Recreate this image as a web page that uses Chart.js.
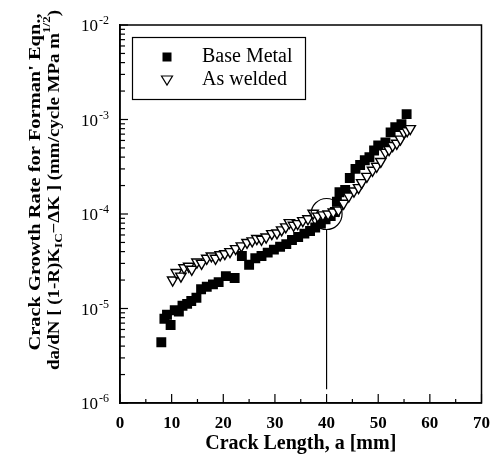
<!DOCTYPE html>
<html><head><meta charset="utf-8">
<script src="https://cdn.jsdelivr.net/npm/chart.js@4/dist/chart.umd.min.js"></script>
<style>html,body{margin:0;padding:0;background:#fff}#wrap{width:500px;height:466px;position:relative}</style>
</head><body><div id="wrap"><canvas id="c" width="500" height="466"></canvas></div>
<script>
// ---- data ----
const baseMetalA    = [8.0, 8.6, 9.1, 9.8, 10.6, 11.4, 12.1, 13.0, 13.8, 14.8, 15.7, 16.8, 18.0, 19.1, 20.5, 22.2, 23.6, 25.0, 26.2, 27.4, 28.6, 29.8, 31.0, 32.2, 33.3, 34.5, 35.7, 36.8, 37.8, 38.9, 39.8, 40.8, 41.6, 42.0, 42.5, 43.6, 44.5, 45.6, 46.5, 47.4, 48.3, 49.2, 50.0, 51.4, 52.4, 53.3, 54.5, 55.5];
const baseMetalRate = [4.4e-6, 7.8e-6, 8.6e-6, 6.7e-6, 9.6e-6, 9.3e-6, 1.07e-5, 1.12e-5, 1.2e-5, 1.3e-5, 1.6e-5, 1.7e-5, 1.8e-5, 1.9e-5, 2.2e-5, 2.1e-5, 3.6e-5, 2.9e-5, 3.4e-5, 3.6e-5, 3.9e-5, 4.2e-5, 4.5e-5, 4.8e-5, 5.3e-5, 5.7e-5, 6.2e-5, 6.6e-5, 7.2e-5, 7.9e-5, 8.8e-5, 9.5e-5, 1.05e-4, 1.35e-4, 1.7e-4, 1.8e-4, 2.4e-4, 3.0e-4, 3.3e-4, 3.7e-4, 4.0e-4, 4.7e-4, 5.3e-4, 5.7e-4, 7.3e-4, 8.3e-4, 8.9e-4, 1.14e-3];
const asWeldedA     = [10.2, 10.9, 11.8, 12.4, 13.3, 13.9, 14.9, 15.8, 16.8, 17.7, 18.5, 19.4, 20.3, 21.3, 22.4, 23.5, 24.6, 25.6, 26.5, 27.4, 28.3, 29.4, 30.4, 31.3, 32.1, 32.8, 33.6, 34.4, 35.4, 36.4, 37.4, 38.3, 39.3, 40.3, 41.3, 42.3, 43.3, 44.3, 45.3, 46.2, 46.8, 47.8, 48.9, 49.7, 50.5, 51.4, 52.1, 52.8, 53.6, 54.3, 55.0, 55.6, 56.2];
const asWeldedRate  = [2.0e-5, 2.4e-5, 2.2e-5, 2.7e-5, 2.8e-5, 2.6e-5, 3.1e-5, 3.0e-5, 3.4e-5, 3.6e-5, 3.4e-5, 3.7e-5, 3.8e-5, 4.0e-5, 4.3e-5, 4.6e-5, 5.0e-5, 5.2e-5, 5.5e-5, 5.4e-5, 5.7e-5, 6.2e-5, 6.3e-5, 6.8e-5, 7.3e-5, 8.1e-5, 7.6e-5, 7.9e-5, 8.5e-5, 8.9e-5, 1.02e-4, 9.5e-5, 9.8e-5, 1.0e-4, 1.05e-4, 1.1e-4, 1.3e-4, 1.55e-4, 1.75e-4, 1.9e-4, 2.15e-4, 2.5e-4, 2.9e-4, 3.2e-4, 3.6e-4, 4.5e-4, 4.8e-4, 5.3e-4, 5.6e-4, 6.2e-4, 7.3e-4, 7.6e-4, 8.0e-4];
const seriesNames   = ['Base Metal', 'As welded'];
const xTickValues   = [0, 10, 20, 30, 40, 50, 60, 70];
const xMinorValues  = [5, 15, 25, 35, 45, 55, 65];
const yDecades      = [1e-6, 1e-5, 1e-4, 1e-3, 1e-2];
const yDecadeExps   = ['-6', '-5', '-4', '-3', '-2'];
const circleMark    = [{x: 40, y: 1e-4}];
const leaderLine    = [{x: 40, y: 6.8e-5}, {x: 40, y: 1.4e-6}];
const xTitle        = 'Crack Length, a [mm]';
const yTitleLine1   = 'Crack Growth Rate for Forman\' Eqn.,';
const yTitleLine2   = [['da/dN [ (1-R)K', 'n'], ['IC', 'sub'], ['\u2212\u0394K ] (mm/cycle MPa m', 'n'], ['1/2', 'sup'], [')', 'n']];

const SERIF = '"Liberation Serif", "Times New Roman", serif';

const decor = {
  id: 'decor',
  afterDraw(chart) {
    const ctx = chart.ctx, ca = chart.chartArea;
    const xs = chart.scales.x, ys = chart.scales.y;
    ctx.save();
    ctx.strokeStyle = '#000'; ctx.fillStyle = '#000';
    // frame
    ctx.lineWidth = 1.5;
    ctx.strokeRect(ca.left, ca.top, ca.right - ca.left, ca.bottom - ca.top);
    // y ticks (inward)
    ctx.lineWidth = 1.2;
    yDecades.forEach((d, i) => {
      const py = ys.getPixelForValue(d);
      ctx.beginPath(); ctx.moveTo(ca.left, py); ctx.lineTo(ca.left + 8, py); ctx.stroke();
      if (i < yDecades.length - 1) {
        for (let k = 2; k <= 9; k++) {
          const p = ys.getPixelForValue(k * d);
          ctx.beginPath(); ctx.moveTo(ca.left, p); ctx.lineTo(ca.left + 5, p); ctx.stroke();
        }
      }
      ctx.font = '17px ' + SERIF;
      ctx.textAlign = 'right'; ctx.textBaseline = 'alphabetic';
      ctx.fillText('10', 98, py + 6);
      ctx.font = '12px ' + SERIF;
      ctx.textAlign = 'left';
      ctx.fillText(yDecadeExps[i], 99, py - 1);
    });
    // x ticks (inward)
    xTickValues.forEach(v => {
      const px = xs.getPixelForValue(v);
      ctx.beginPath(); ctx.moveTo(px, ca.bottom); ctx.lineTo(px, ca.bottom - 9); ctx.stroke();
    });
    xMinorValues.forEach(v => {
      const px = xs.getPixelForValue(v);
      ctx.beginPath(); ctx.moveTo(px, ca.bottom); ctx.lineTo(px, ca.bottom - 4); ctx.stroke();
    });
    // y title line 1
    ctx.textBaseline = 'alphabetic';
    ctx.save();
    ctx.translate(40, 182); ctx.rotate(-Math.PI / 2);
    ctx.font = 'bold 16px ' + SERIF;
    const w1 = ctx.measureText(yTitleLine1).width;
    ctx.scale(337 / w1, 1);
    ctx.textAlign = 'center';
    ctx.fillText(yTitleLine1, 0, 0);
    ctx.restore();
    // y title line 2
    ctx.save();
    ctx.translate(58.5, 190); ctx.rotate(-Math.PI / 2);
    const fontOf = s => 'bold ' + (s === 'n' ? 16 : 11) + 'px ' + SERIF;
    let total = 0;
    yTitleLine2.forEach(([t, s]) => { ctx.font = fontOf(s); total += ctx.measureText(t).width; });
    ctx.scale(360 / total, 1);
    let x = -total / 2;
    ctx.textAlign = 'left';
    yTitleLine2.forEach(([t, s]) => {
      ctx.font = fontOf(s);
      const dy = s === 'sub' ? 3.5 : (s === 'sup' ? -9 : 0);
      ctx.fillText(t, x, dy);
      x += ctx.measureText(t).width;
    });
    ctx.restore();
    // legend
    ctx.lineWidth = 1.2;
    ctx.strokeRect(132.5, 37.5, 173, 62);
    ctx.fillRect(162.5, 52.5, 9, 9);
    ctx.beginPath();
    ctx.moveTo(161.5, 76); ctx.lineTo(172.5, 76); ctx.lineTo(167, 85); ctx.closePath();
    ctx.fillStyle = '#fff'; ctx.fill(); ctx.stroke();
    ctx.fillStyle = '#000';
    ctx.font = '20px ' + SERIF; ctx.textAlign = 'left';
    ctx.fillText(seriesNames[0], 202, 62);
    ctx.fillText(seriesNames[1], 202, 85);
    ctx.restore();
  }
};

new Chart(document.getElementById('c'), {
  type: 'scatter',
  data: {
    datasets: [
      {
        label: seriesNames[0],
        data: baseMetalA.map((a, i) => ({x: a, y: baseMetalRate[i]})),
        pointStyle: 'rect', pointRadius: 7, backgroundColor: '#000', borderColor: '#000', borderWidth: 0,
        order: 2
      },
      {
        label: seriesNames[1],
        data: asWeldedA.map((a, i) => ({x: a, y: asWeldedRate[i]})),
        pointStyle: 'triangle', rotation: 180, pointRadius: 6, backgroundColor: '#fff', borderColor: '#000', borderWidth: 1.4,
        order: 1
      },
      {
        label: 'circle',
        data: circleMark,
        pointStyle: 'circle', pointRadius: 15.5, backgroundColor: 'rgba(0,0,0,0)', borderColor: '#000', borderWidth: 1.2,
        order: 0
      },
      {
        type: 'line',
        label: 'leader',
        data: leaderLine,
        borderColor: '#000', borderWidth: 1.2, pointRadius: 0, showLine: true, fill: false,
        order: 0
      }
    ]
  },
  options: {
    responsive: false,
    devicePixelRatio: 1,
    animation: false,
    layout: {padding: {top: 25, right: 8, left: 0, bottom: 0}},
    plugins: {legend: {display: false}, tooltip: {enabled: false}},
    scales: {
      x: {
        type: 'linear', min: 0, max: 70, position: 'bottom',
        afterFit: s => { s.height = 63; },
        ticks: {stepSize: 10, color: '#000', font: {family: SERIF, size: 17, weight: 'bold'}, padding: 10, maxRotation: 0},
        grid: {display: false, drawTicks: false},
        border: {display: true, color: '#000', width: 1.5},
        title: {display: true, text: xTitle, color: '#000', font: {family: SERIF, size: 20, weight: 'bold'}, padding: {top: 0, bottom: 10}}
      },
      y: {
        type: 'logarithmic', min: 1e-6, max: 1e-2,
        afterFit: s => { s.width = 120; },
        ticks: {display: false},
        grid: {display: false, drawTicks: false},
        border: {display: true, color: '#000', width: 1.5}
      }
    }
  },
  plugins: [decor]
});
</script>
</body></html>
